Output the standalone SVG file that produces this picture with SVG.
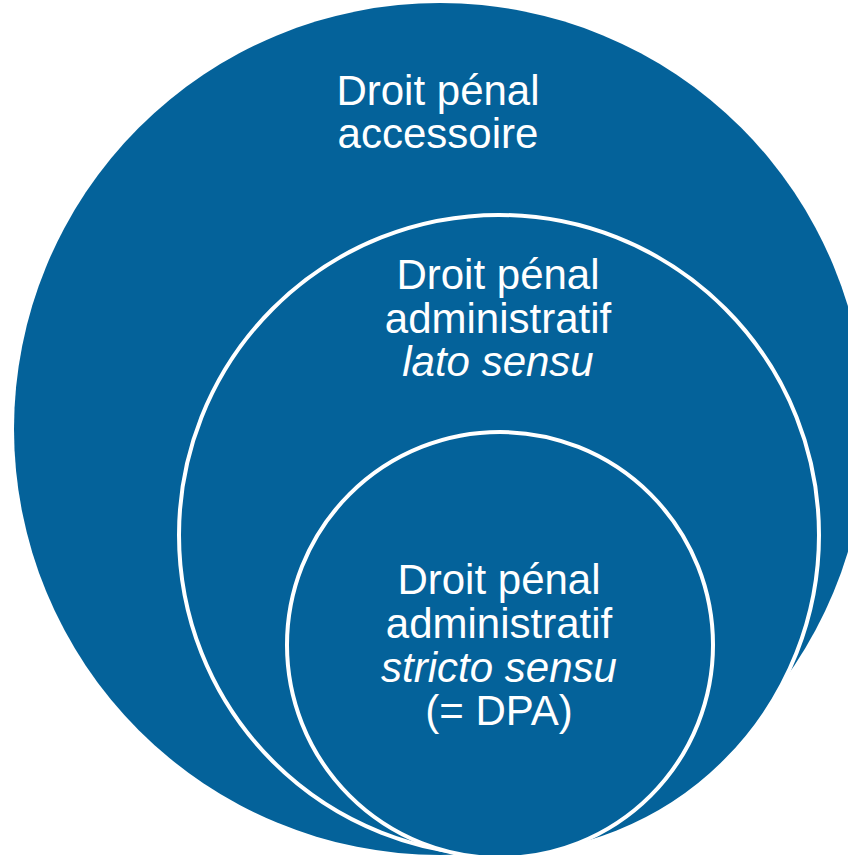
<svg xmlns="http://www.w3.org/2000/svg" width="848" height="855" viewBox="0 0 848 855">
<style>
.c{fill:#04629A;}
.s{stroke:#ffffff;stroke-width:4;}
.t{font-family:"Liberation Sans",Arial,sans-serif;font-size:42px;fill:#ffffff;text-anchor:middle;}
.i{font-style:italic;}
</style>
<rect width="848" height="855" fill="#ffffff"/>
<g id="outer">
<circle class="c" cx="440" cy="429" r="426"/>
<text class="t" x="438" y="105">Droit pénal</text>
<text class="t" x="438" y="148">accessoire</text>
</g>
<g id="middle">
<circle class="c s" cx="499" cy="535" r="320"/>
<text class="t" x="498" y="289">Droit pénal</text>
<text class="t" x="498" y="333">administratif</text>
<text class="t i" x="498" y="376">lato sensu</text>
</g>
<g id="inner">
<circle class="c s" cx="500" cy="645" r="213"/>
<text class="t" x="499" y="594">Droit pénal</text>
<text class="t" x="499" y="638">administratif</text>
<text class="t i" x="499" y="682">stricto sensu</text>
<text class="t" x="499" y="725">(= DPA)</text>
</g>
<g id="connectors"></g>
</svg>
